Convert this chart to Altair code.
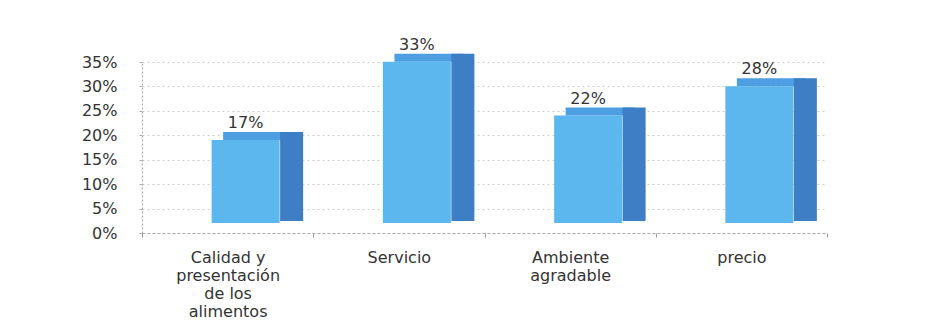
import altair as alt
import pandas as pd

categories = ["Calidad y presentación de los alimentos", "Servicio", "Ambiente agradable", "precio"]
values = [0.17, 0.33, 0.22, 0.28]
value_labels = ["17%", "33%", "22%", "28%"]
label_lines = [["Calidad y", "presentación", "de los", "alimentos"], ["Servicio"], ["Ambiente", "agradable"], ["precio"]]
y_ticks = [0, 0.05, 0.10, 0.15, 0.20, 0.25, 0.30, 0.35]

df = pd.DataFrame({"cat": categories, "value": values, "label": value_labels})

# build a label expression splitting each category into its printed lines
expr = "datum.label"
for c, lines in reversed(list(zip(categories, label_lines))):
    arr = "[" + ",".join("'" + s + "'" for s in lines) + "]"
    expr = f"datum.label == '{c}' ? {arr} : ({expr})"

FONT = "DejaVu Sans"
TXT = "#333333"
FS = 16

xscale = alt.Scale(domain=categories, range=[0, 685], paddingInner=0, paddingOuter=0)
yscale = alt.Scale(domain=[0, 0.35])

xaxis = alt.Axis(
    labelAngle=0,
    labelExpr=expr,
    labelFont=FONT,
    labelFontSize=FS,
    labelColor=TXT,
    labelLineHeight=18,
    labelPadding=12,
    labelLimit=250,
    tickBand="extent",
    tickSize=4,
    tickColor="#999999",
    domainColor="#aaaaaa",
    domainDash=[3, 2],
    grid=False,
)
yaxis = alt.Axis(
    values=y_ticks,
    format=".0%",
    labelFont=FONT,
    labelFontSize=FS,
    labelColor=TXT,
    labelPadding=22,
    tickSize=3,
    tickColor="#aaaaaa",
    domainColor="#aaaaaa",
    domainDash=[2, 2],
    grid=True,
    gridColor="#cccccc",
    gridDash=[2, 3],
)

X = alt.X("cat:N", scale=xscale, sort=categories, title=None, axis=xaxis)
Y = alt.Y("value:Q", scale=yscale, title=None, axis=yaxis)

base = alt.Chart(df)

front = base.mark_bar(color="#5cb7ee", width=68, xOffset=18, yOffset=-10, y2Offset=-10).encode(
    x=X, y=Y, y2=alt.datum(0)
)

top_face = base.mark_bar(color="#4d9fe2", width=69, xOffset=30, yOffset=-18, y2Offset=-10).encode(
    x=X, y=Y, y2=alt.Y2("value:Q")
)

side_face = base.mark_bar(color="#3d7ec4", width=23, xOffset=64, yOffset=-18, y2Offset=-12).encode(
    x=X, y=Y, y2=alt.datum(0)
)

text = base.mark_text(font=FONT, fontSize=FS, color=TXT, xOffset=18, yOffset=-19, baseline="bottom").encode(
    x=X, y=Y, text="label:N"
)

chart = (
    alt.layer(front, top_face, side_face, text)
    .properties(
        width=743,
        height=171,
        autosize=alt.AutoSizeParams(type="none"),
        padding={"left": 142, "top": 62, "right": 53, "bottom": 100},
        background="white",
    )
    .configure_view(strokeWidth=0, stroke=None)
)

chart.save("out.html", embed_options={"renderer": "svg", "actions": False})
